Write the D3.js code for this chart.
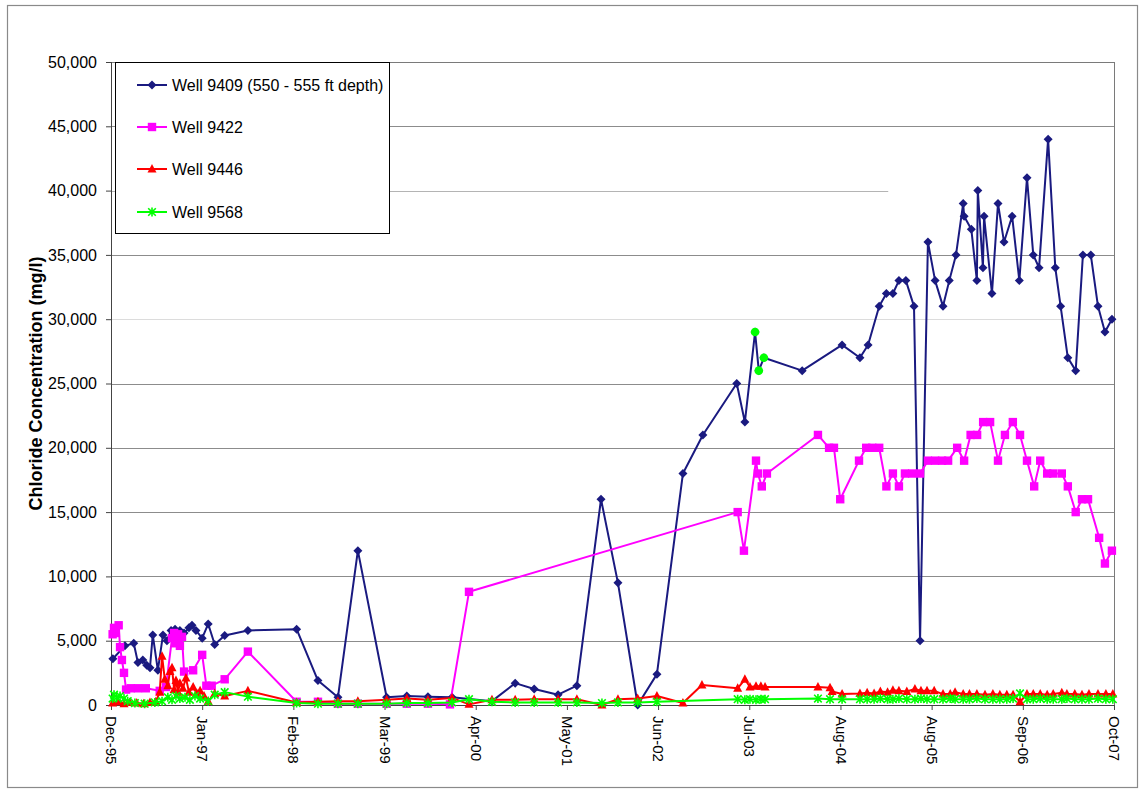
<!DOCTYPE html>
<html><head><meta charset="utf-8">
<script src="https://cdn.jsdelivr.net/npm/d3@7"></script>
<style>
body{margin:0;background:#fff}
svg{display:block}
text{font-family:Arial,"Liberation Sans",sans-serif;fill:#000}
</style>
</head><body>
<svg id="chart" width="1141" height="798"></svg>
<script>
// ---------------- DATA ----------------
const seriesNames = ["Well 9409 (550 - 555 ft depth)", "Well 9422", "Well 9446", "Well 9568"];
const seriesColors = ["#1a1a80", "#ff00ff", "#ff0000", "#00ff00"];

const xTickDates = ["1995-12-25","1997-01-21","1998-02-18","1999-03-18","2000-04-14","2001-05-12",
  "2002-06-09","2003-07-07","2004-08-03","2005-08-31","2006-09-28","2007-10-26"];
const xTickLabels = ["Dec-95","Jan-97","Feb-98","Mar-99","Apr-00","May-01","Jun-02","Jul-03","Aug-04","Aug-05","Sep-06","Oct-07"];
const yTickValues = [0,5000,10000,15000,20000,25000,30000,35000,40000,45000,50000];
const yTitle = "Chloride Concentration (mg/l)";

const well9409 = [["1996-01-02",3600],["1996-02-23",4600],["1996-04-01",4800],["1996-04-19",3300],["1996-05-10",3500],
["1996-05-27",3100],["1996-06-10",2900],["1996-06-22",5450],["1996-07-14",2700],["1996-08-05",5450],["1996-08-22",5000],
["1996-09-09",5800],["1996-09-26",5900],["1996-10-17",5800],["1996-11-04",5600],["1996-11-25",6000],["1996-12-08",6200],
["1996-12-25",5800],["1997-01-21",5200],["1997-02-16",6300],["1997-03-16",4700],["1997-04-28",5400],["1997-08-06",5800],
["1998-03-04",5900],["1998-06-04",1900],["1998-08-29",600],["1998-11-23",12000],["1999-03-27",600],["1999-06-22",700],
["1999-09-21",650],["2000-01-03",600],["2000-06-23",300],["2000-10-01",1700],["2000-12-22",1250],["2001-04-04",800],
["2001-06-24",1500],["2001-10-06",16000],["2001-12-18",9500],["2002-03-13",0],["2002-06-04",2400],["2002-09-24",18000],
["2002-12-19",21000],["2003-05-14",25000],["2003-06-18",22000],["2003-08-01",29000],["2003-08-17",26000],["2003-09-08",27000],
["2004-02-20",26000],["2004-08-10",28000],["2004-10-26",27000],["2004-11-30",28000],["2005-01-17",31000],["2005-02-17",32000],
["2005-03-17",32000],["2005-04-12",33000],["2005-05-12",33000],["2005-06-16",31000],["2005-07-12",5000],["2005-08-15",36000],
["2005-09-15",33000],["2005-10-19",31000],["2005-11-15",33000],["2005-12-14",35000],["2006-01-14",39000],["2006-01-18",38000],
["2006-02-18",37000],["2006-03-14",33000],["2006-03-18",40000],["2006-04-09",34000],["2006-04-14",38000],["2006-05-18",32000],
["2006-06-13",39000],["2006-07-09",36000],["2006-08-13",38000],["2006-09-13",33000],["2006-10-16",41000],["2006-11-12",35000],
["2006-12-07",34000],["2007-01-15",44000],["2007-02-15",34000],["2007-03-10",31000],["2007-04-10",27000],["2007-05-14",26000],
["2007-06-14",35000],["2007-07-18",35000],["2007-08-18",31000],["2007-09-17",29000],["2007-10-17",30000]];

// points of Well 9409 that are shown with green markers
const well9409Flagged = [["2003-08-01",29000],["2003-08-17",26000],["2003-09-08",27000]];

const well9422 = [["1996-01-01",5500],["1996-01-07",6000],["1996-01-15",5600],["1996-01-27",6200],["1996-02-02",4500],
["1996-02-10",3500],["1996-02-19",2500],["1996-02-28",1200],["1996-03-19",1300],["1996-04-19",1300],["1996-05-23",1300],
["1996-07-22",1100],["1996-08-18",1400],["1996-09-13",5200],["1996-09-22",5600],["1996-09-30",4800],["1996-10-09",5500],
["1996-10-17",4600],["1996-10-26",5300],["1996-11-04",2600],["1996-12-13",2700],["1997-01-21",3900],["1997-02-08",1500],
["1997-03-03",1500],["1997-04-28",2000],["1997-08-06",4150],["1998-03-04",250],["1998-06-04",250],["1998-08-29",100],
["1998-11-23",100],["1999-03-27",100],["1999-06-22",100],["1999-09-21",100],["1999-12-25",50],["2000-03-16",8800],
["2003-05-18",15000],["2003-06-14",12000],["2003-08-05",19000],["2003-08-13",18000],["2003-08-30",17000],["2003-09-21",18000],
["2004-04-28",21000],["2004-06-15",20000],["2004-07-06",20000],["2004-08-02",16000],["2004-10-22",19000],["2004-11-22",20000],
["2004-12-18",20000],["2005-01-17",20000],["2005-02-17",17000],["2005-03-17",18000],["2005-04-12",17000],["2005-05-08",18000],
["2005-06-08",18000],["2005-07-12",18000],["2005-08-15",19000],["2005-09-15",19000],["2005-10-15",19000],["2005-11-10",19000],
["2005-12-19",20000],["2006-01-18",19000],["2006-02-15",21000],["2006-03-15",21000],["2006-04-10",22000],["2006-05-10",22000],
["2006-06-13",19000],["2006-07-13",21000],["2006-08-16",22000],["2006-09-16",21000],["2006-10-16",19000],["2006-11-16",17000],
["2006-12-12",19000],["2007-01-11",18000],["2007-02-06",18000],["2007-03-15",18000],["2007-04-10",17000],["2007-05-14",15000],
["2007-06-10",16000],["2007-07-06",16000],["2007-08-23",13000],["2007-09-17",11000],["2007-10-17",12000]];

const well9446 = [["1996-01-01",150],["1996-01-24",250],["1996-02-19",100],["1996-03-15",200],["1996-04-14",150],
["1996-05-14",100],["1996-06-10",200],["1996-07-05",250],["1996-07-22",1000],["1996-08-01",3800],["1996-08-13",2000],
["1996-08-26",1500],["1996-09-04",2600],["1996-09-13",2900],["1996-09-22",1200],["1996-09-30",1900],["1996-10-09",1000],
["1996-10-17",1700],["1996-10-30",1300],["1996-11-12",2100],["1996-11-25",1000],["1996-12-13",1400],["1996-12-29",900],
["1997-01-12",1100],["1997-01-29",700],["1997-02-16",300],["1997-03-16",900],["1997-04-28",700],["1997-08-06",1100],
["1998-03-04",200],["1998-06-04",250],["1998-08-29",300],["1998-11-23",300],["1999-03-27",400],["1999-06-22",500],
["1999-09-21",400],["2000-01-03",550],["2000-03-16",50],["2000-06-23",400],["2000-10-01",400],["2000-12-22",450],
["2001-04-04",450],["2001-06-24",450],["2001-10-10",0],["2001-12-18",450],["2002-03-13",500],["2002-06-04",700],
["2002-09-24",150],["2002-12-15",1550],["2003-05-18",1300],["2003-06-18",2000],["2003-07-10",1400],["2003-08-05",1450],
["2003-08-26",1450],["2003-09-13",1400],["2004-04-28",1400],["2004-06-19",1350],["2004-06-28",1050],["2004-08-10",850],
["2004-10-26",900],["2004-11-26",950],["2004-12-26",900],["2005-01-22",1050],["2005-02-22",1000],["2005-03-17",1150],
["2005-04-12",1100],["2005-05-16",1050],["2005-06-20",1250],["2005-07-16",1100],["2005-08-11",1100],["2005-09-11",1100],
["2005-10-19",850],["2005-11-19",850],["2005-12-10",1000],["2006-01-14",850],["2006-02-10",850],["2006-03-14",850],
["2006-04-18",800],["2006-05-22",850],["2006-06-21",800],["2006-07-21",800],["2006-08-17",800],["2006-09-16",250],
["2006-10-16",850],["2006-11-12",850],["2006-12-12",850],["2007-01-11",800],["2007-02-06",850],["2007-03-15",950],
["2007-04-06",850],["2007-05-10",850],["2007-06-10",800],["2007-07-10",850],["2007-08-18",850],["2007-09-21",850],
["2007-10-21",850]];

const well9568 = [["1996-01-01",500],["1996-01-07",800],["1996-01-19",600],["1996-02-02",700],["1996-02-19",500],
["1996-03-06",300],["1996-04-06",150],["1996-05-18",100],["1996-07-01",200],["1996-08-01",300],["1996-08-26",600],
["1996-09-13",400],["1996-09-30",700],["1996-10-17",500],["1996-11-08",600],["1996-11-29",400],["1996-12-21",700],
["1997-01-12",500],["1997-02-16",300],["1997-03-16",800],["1997-04-28",1000],["1997-08-06",650],["1998-03-04",150],
["1998-06-04",100],["1998-08-29",100],["1998-11-23",100],["1999-03-27",100],["1999-06-22",150],["1999-09-21",150],
["2000-01-03",200],["2000-03-16",450],["2000-06-23",250],["2000-10-01",200],["2000-12-22",200],["2001-04-04",200],
["2001-06-24",200],["2001-10-10",150],["2001-12-18",200],["2002-03-13",200],["2002-06-04",250],["2003-05-18",450],
["2003-06-18",400],["2003-07-10",450],["2003-08-05",400],["2003-08-26",450],["2003-09-13",450],["2004-04-28",500],
["2004-06-19",450],["2004-08-10",450],["2004-10-26",450],["2004-11-26",450],["2004-12-26",450],["2005-01-22",500],
["2005-02-22",450],["2005-03-17",450],["2005-04-12",500],["2005-05-16",450],["2005-06-20",450],["2005-07-16",500],
["2005-08-11",450],["2005-09-11",450],["2005-10-19",450],["2005-11-19",500],["2005-12-10",450],["2006-01-14",450],
["2006-02-10",450],["2006-03-14",500],["2006-04-18",450],["2006-05-22",450],["2006-06-21",450],["2006-07-21",450],
["2006-08-17",500],["2006-09-16",900],["2006-10-16",450],["2006-11-12",450],["2006-12-12",500],["2007-01-11",450],
["2007-02-06",450],["2007-03-15",450],["2007-04-06",500],["2007-05-10",450],["2007-06-10",450],["2007-07-10",450],
["2007-08-18",500],["2007-09-21",450],["2007-10-21",450]];

// ---------------- CHART ----------------
const svg = d3.select("#chart");
const parse = d3.timeParse("%Y-%m-%d");
const W = 1141, H = 798;
const plot = {left: 111, right: 1114, top: 62, bottom: 705};

const x = d3.scaleTime()
  .domain([parse(xTickDates[0]), parse(xTickDates[xTickDates.length - 1])])
  .range([plot.left, plot.right]);
const y = d3.scaleLinear().domain([0, 50000]).range([plot.bottom, plot.top]);

svg.append("rect").attr("width", W).attr("height", H).attr("fill", "#fff");
// outer chart frame
svg.append("rect").attr("x", 7.5).attr("y", 5.5).attr("width", 1130).attr("height", 782)
  .attr("fill", "none").attr("stroke", "#8a8a8a").attr("stroke-width", 1.2);

// gridlines
const grid = svg.append("g");
yTickValues.filter(v => v > 0 && v < 50000).forEach(v => {
  let x2 = plot.right, col = "#8c8c8c";
  if (v === 30000) col = "#dcdcdc";
  if (v === 40000) { x2 = x(parse("2005-02-25")); col = "#b4b4b4"; }
  grid.append("line").attr("x1", plot.left).attr("x2", x2)
    .attr("y1", Math.round(y(v)) + 0.5).attr("y2", Math.round(y(v)) + 0.5)
    .attr("stroke", col).attr("stroke-width", 1);
});

// plot border
svg.append("rect").attr("x", plot.left + 0.5).attr("y", plot.top + 0.5)
  .attr("width", plot.right - plot.left).attr("height", plot.bottom - plot.top)
  .attr("fill", "none").attr("stroke", "#7a7a7a").attr("stroke-width", 1);
svg.append("line").attr("x1", plot.left + 0.5).attr("x2", plot.left + 0.5)
  .attr("y1", plot.top).attr("y2", plot.bottom).attr("stroke", "#444");
svg.append("line").attr("x1", plot.left).attr("x2", plot.right)
  .attr("y1", plot.bottom + 0.5).attr("y2", plot.bottom + 0.5).attr("stroke", "#444");

// y axis
const yAxis = svg.append("g").attr("transform", `translate(${plot.left},0)`)
  .call(d3.axisLeft(y).tickValues(yTickValues).tickFormat(d3.format(",")).tickSize(5).tickPadding(9));
yAxis.select(".domain").remove();
yAxis.selectAll(".tick line").attr("stroke", "#444");
yAxis.selectAll("text").style("font-size", "16px").attr("fill", "#000");

// x axis
const xAxis = svg.append("g").attr("transform", `translate(0,${plot.bottom})`)
  .call(d3.axisBottom(x).tickValues(xTickDates.map(parse)).tickFormat((d, i) => xTickLabels[i]).tickSize(5));
xAxis.select(".domain").remove();
xAxis.selectAll(".tick line").attr("stroke", "#444");
xAxis.selectAll("text")
  .attr("transform", "rotate(90)")
  .attr("x", 11).attr("y", 0).attr("dy", "0.36em")
  .style("text-anchor", "start").style("font-size", "15px").attr("fill", "#000");

// y title
svg.append("text").attr("transform", `translate(42,${(plot.top + plot.bottom) / 2}) rotate(-90)`)
  .attr("text-anchor", "middle").style("font-size", "18px").style("font-weight", "bold")
  .text(yTitle);

// marker generators
const markers = [
  (g, c) => g.append("path").attr("d", "M0,-4.5L4.5,0L0,4.5L-4.5,0Z").attr("fill", c),
  (g, c) => g.append("rect").attr("x", -4.2).attr("y", -4.2).attr("width", 8.4).attr("height", 8.4).attr("fill", c),
  (g, c) => g.append("path").attr("d", "M0,-5L4.5,3.5L-4.5,3.5Z").attr("fill", c),
  (g, c) => g.append("path").attr("d", "M-3.8,-3.8L3.8,3.8M-3.8,3.8L3.8,-3.8M0,-4.5L0,4.5").attr("fill", "none").attr("stroke", c).attr("stroke-width", 1.6)
];

const allSeries = [well9409, well9422, well9446, well9568];
const line = d3.line().x(d => x(parse(d[0]))).y(d => y(d[1]));

allSeries.forEach((data, si) => {
  const g = svg.append("g");
  g.append("path").datum(data).attr("d", line).attr("fill", "none")
    .attr("stroke", seriesColors[si]).attr("stroke-width", 2).attr("stroke-linejoin", "round");
  data.forEach(d => {
    const mg = g.append("g").attr("transform", `translate(${x(parse(d[0]))},${y(d[1])})`);
    markers[si](mg, seriesColors[si]);
  });
});

// flagged points of Well 9409 shown in green
well9409Flagged.forEach(d => {
  svg.append("circle").attr("cx", x(parse(d[0]))).attr("cy", y(d[1])).attr("r", 4.3)
    .attr("fill", "#00ff00");
});

// legend
const lg = svg.append("g");
lg.append("rect").attr("x", 115.5).attr("y", 62.5).attr("width", 274).attr("height", 171)
  .attr("fill", "#fff").attr("stroke", "#000").attr("stroke-width", 1);
const legendRowY = [85, 127, 169, 212];
seriesNames.forEach((name, i) => {
  const yy = legendRowY[i];
  lg.append("line").attr("x1", 137).attr("x2", 167).attr("y1", yy).attr("y2", yy)
    .attr("stroke", seriesColors[i]).attr("stroke-width", 2);
  const mg = lg.append("g").attr("transform", `translate(152,${yy})`);
  markers[i](mg, seriesColors[i]);
  lg.append("text").attr("x", 172).attr("y", yy).attr("dy", "0.36em")
    .style("font-size", "16px").text(name);
});
</script>
</body></html>
